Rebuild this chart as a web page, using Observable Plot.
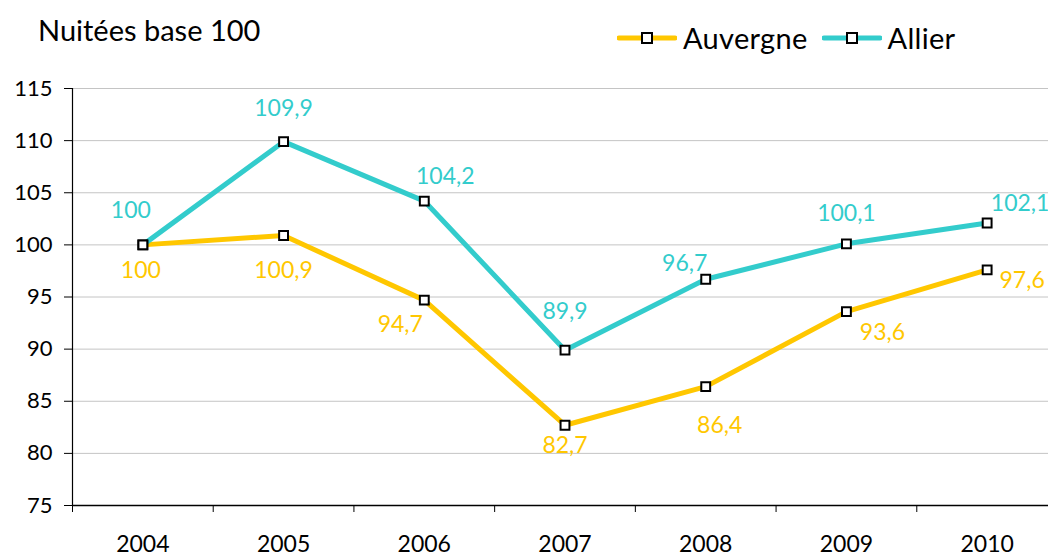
<!DOCTYPE html>
<html>
<head>
<meta charset="utf-8">
<script src="https://cdn.jsdelivr.net/npm/d3@7"></script>
<script src="https://cdn.jsdelivr.net/npm/@observablehq/plot@0.6"></script>
<style>
  html, body { margin: 0; padding: 0; background: #fff; }
  #wrap { position: relative; width: 1048px; height: 557px; overflow: hidden; font-family: "Gill Sans", Lato, "Open Sans", sans-serif; }
  #title { position: absolute; left: 38px; top: 12px; font-size: 29px; color: #000; }
  #legend { position: absolute; left: 617px; top: 20px; display: flex; align-items: center; font-size: 29px; color: #000; }
  #legend .item { display: flex; align-items: center; margin-right: 14px; }
  #legend .item span { letter-spacing: 0.3px; }
  #legend svg { margin-right: 6px; }
  #chart { position: absolute; left: 0; top: 0; }
</style>
</head>
<body>
<div id="wrap">
  <div id="chart"></div>
  <div id="title">Nuitées base 100</div>
  <div id="legend"></div>
</div>
<script>
const years = [2004, 2005, 2006, 2007, 2008, 2009, 2010];
const auvergne = [100, 100.9, 94.7, 82.7, 86.4, 93.6, 97.6];
const allier = [100, 109.9, 104.2, 89.9, 96.7, 100.1, 102.1];
const seriesNames = ["Auvergne", "Allier"];
const yTicks = [75, 80, 85, 90, 95, 100, 105, 110, 115];

const colors = { Auvergne: "#FFC700", Allier: "#33CCCC" };
// label offsets (px) per point, style only
const offsets = {
  Auvergne: [[-2, 26], [0, 35], [-24, 24], [0, 20], [14, 39], [36, 21], [35, 11]],
  Allier: [[-12, -34], [0, -33], [21, -24], [0, -39], [-21, -16], [0, -30], [33, -19]]
};

const data = [];
seriesNames.forEach(s => {
  const vals = s === "Auvergne" ? auvergne : allier;
  years.forEach((yr, i) => data.push({ series: s, year: yr, value: vals[i], i }));
});

const fmt = v => String(v).replace(".", ",");
const bounds = years.slice(0, -1).map(y => y + 0.5).concat([years[0] - 0.5]);

const labelMarks = data.map(d => Plot.text([d], {
  x: "year", y: "value", text: dd => fmt(dd.value),
  fill: colors[d.series], fontSize: 23,
  dx: offsets[d.series][d.i][0], dy: offsets[d.series][d.i][1]
}));

const chart = Plot.plot({
  width: 1048,
  height: 557,
  marginTop: 88,
  marginBottom: 52,
  marginLeft: 72,
  marginRight: 0,
  style: { fontFamily: '"Gill Sans", Lato, "Open Sans", sans-serif', color: "#000", background: "transparent" },
  x: { type: "linear", domain: [years[0] - 0.5, years[years.length - 1] + 0.5], range: [72, 1057] },
  y: { domain: [75, 115], range: [505, 88] },
  marks: [
    Plot.ruleY(yTicks.slice(1), { stroke: "#c4c4c4", strokeWidth: 1 }),
    Plot.axisY({ ticks: yTicks, tickSize: 8, tickPadding: 12, fontSize: 22, tickFormat: d => String(d), label: null }),
    Plot.axisX({ ticks: bounds, tickSize: 7, tickFormat: () => "", label: null }),
    Plot.axisX({ ticks: years, tickSize: 0, tickPadding: 30, fontSize: 23, tickFormat: d => String(d), label: null }),
    Plot.ruleX([years[0] - 0.5], { y1: 75, y2: 115, stroke: "#000", strokeWidth: 1.2 }),
    Plot.ruleY([75], { stroke: "#000", strokeWidth: 1.5 }),
    Plot.line(data, { x: "year", y: "value", z: "series", stroke: d => colors[d.series], strokeWidth: 5 }),
    Plot.dot(data, { x: "year", y: "value", symbol: "square", r: 5, fill: "#fff", stroke: "#000", strokeWidth: 2 }),
    ...labelMarks
  ]
});
document.getElementById("chart").appendChild(chart);

const legend = document.getElementById("legend");
seriesNames.forEach(s => {
  const item = document.createElement("div");
  item.className = "item";
  item.innerHTML = `<svg width="60" height="14"><line x1="2" y1="7" x2="58" y2="7" stroke="${colors[s]}" stroke-width="5" stroke-linecap="round"/><rect x="25" y="2" width="10" height="10" fill="#fff" stroke="#000" stroke-width="2"/></svg><span>${s}</span>`;
  legend.appendChild(item);
});
</script>
</body>
</html>
